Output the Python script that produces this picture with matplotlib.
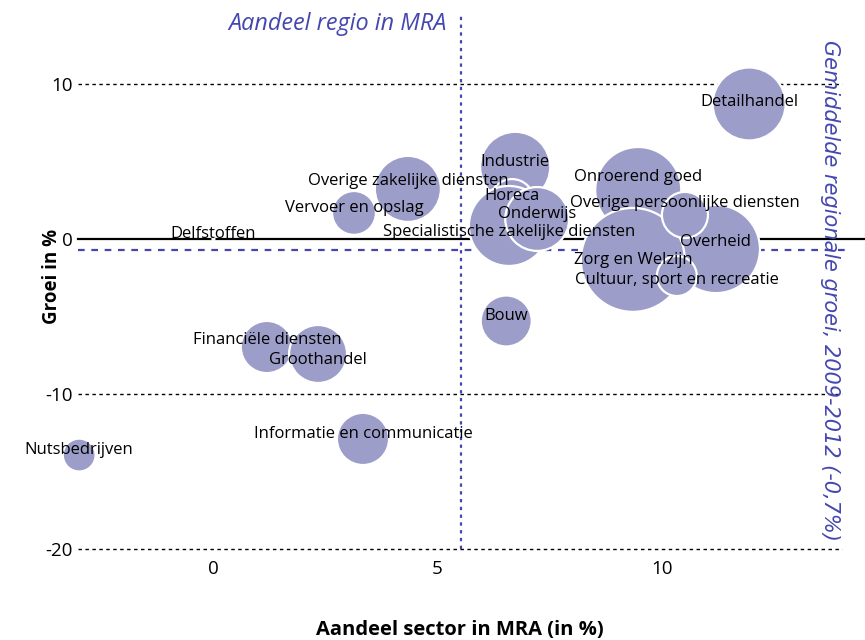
import matplotlib
matplotlib.use("Agg")
import matplotlib.pyplot as plt
import numpy as np

# Sectoren in de MRA: aandeel, groei 2009-2012 en omvang (bolgrootte)
sectoren = [
    "Onroerend goed", "Overheid", "Zorg en Welzijn", "Overige persoonlijke diensten",
    "Cultuur, sport en recreatie", "Detailhandel", "Industrie", "Horeca",
    "Specialistische zakelijke diensten", "Onderwijs", "Overige zakelijke diensten",
    "Vervoer en opslag", "Delfstoffen", "Bouw", "Financiële diensten",
    "Groothandel", "Informatie en communicatie", "Nutsbedrijven",
]
aandeel = [9.47, 11.20, 9.35, 10.51, 10.33, 11.94, 6.73, 6.66, 6.59, 7.22,
           4.34, 3.14, 0.01, 6.53, 1.20, 2.34, 3.34, -2.98]
groei = [3.16, -0.65, -1.35, 1.55, -2.39, 8.71, 4.65, 2.45, 0.84, 1.29,
         3.23, 1.68, 0.0, -5.29, -6.97, -7.42, -12.9, -13.94]
omvang = [185, 194, 270, 53, 40, 133, 123, 48, 160, 102,
          109, 48, 0.1, 65, 68, 84, 68, 27]

regio_aandeel = 5.52      # aandeel regio in MRA
regio_groei = -0.7        # gemiddelde regionale groei
x_ticks = [0, 5, 10]
y_ticks = [-20, -10, 0, 10]

BUBBLE = "#9c9ec9"
BLUE = "#4547b0"

plt.rcParams["font.family"] = ["Open Sans", "DejaVu Sans"]
plt.rcParams["axes.unicode_minus"] = False

fig = plt.figure(figsize=(8.65, 6.4), dpi=100)
ax = fig.add_axes([0.0905, 0.1422, 0.8825, 0.838])
ax.set_xlim(-3, 14)
ax.set_ylim(-20, 14.6)

for s in ax.spines.values():
    s.set_visible(False)

# hulplijnen
for yv in (10, -10, -20):
    ax.axhline(yv, color="black", lw=1, ls=(0, (2.5, 2.5)), zorder=1,
               clip_on=False)
ax.axhline(0, xmin=0, xmax=1.03, color="black", lw=1.6, zorder=1, clip_on=False)
ax.axhline(regio_groei, xmin=0, xmax=1.01, color=BLUE, lw=1.6,
           ls=(0, (3, 3)), zorder=1, clip_on=False)
ax.axvline(regio_aandeel, color=BLUE, lw=1.6, ls=(0, (1.5, 2)), zorder=1)

# bollen: oppervlak evenredig met omvang
px_per_pt = fig.dpi / 72.0
sizes = [(2 * np.sqrt(v * 10) / px_per_pt) ** 2 for v in omvang]
ax.scatter(aandeel, groei, s=sizes, color=BUBBLE, edgecolors="white",
           linewidths=1.6, zorder=2, clip_on=False)

# labels boven het midden van de bol, enkele verschoven om overlap te beperken
label_shift = {
    "Onroerend goed": 13, "Overige persoonlijke diensten": 12,
    "Specialistische zakelijke diensten": -6, "Zorg en Welzijn": 0,
    "Cultuur, sport en recreatie": -4, "Groothandel": -6,
    "Overige zakelijke diensten": 8, "Detailhandel": 2, "Overheid": 7,
    "Financiële diensten": 7,
}
for naam, xv, yv in zip(sectoren, aandeel, groei):
    ax.annotate(naam, (xv, yv), xytext=(0, label_shift.get(naam, 5)),
                textcoords="offset pixels", ha="center", va="center",
                fontsize=12, color="black", zorder=4, annotation_clip=False)

ax.set_xticks(x_ticks)
ax.set_yticks(y_ticks)
ax.tick_params(axis="both", length=0, labelsize=13.5)
ax.tick_params(axis="x", pad=8)
ax.tick_params(axis="y", pad=4)

ax.set_xlabel("Aandeel sector in MRA (in %)", fontsize=14.5, fontweight="bold",
              labelpad=30)
ax.set_ylabel("Groei in %", fontsize=13.5, fontweight="bold")
ax.yaxis.set_label_coords(-0.0214, 0.509)

ax.annotate("Aandeel regio in MRA", (regio_aandeel, 1),
            xycoords=("data", "axes fraction"), xytext=(-14, -11),
            textcoords="offset pixels", ha="right", va="center",
            fontsize=16.8, style="italic", color=BLUE)

ax.text(0.985, 0.949, "Gemiddelde regionale groei, 2009-2012 (-0,7%)",
        transform=ax.transAxes, rotation=270, ha="center", va="top",
        fontsize=15, style="italic", color=BLUE, family="DejaVu Sans")

fig.savefig("out.png", dpi=100)
